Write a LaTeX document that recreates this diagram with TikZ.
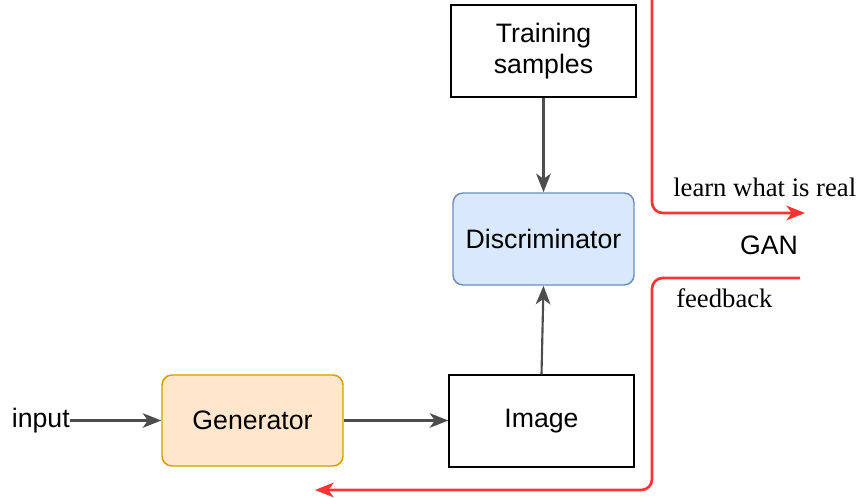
\documentclass[tikz,border=0pt]{standalone}
\usepackage{fontspec}
\setmainfont{Liberation Serif}
\setsansfont{Liberation Sans}
\usetikzlibrary{arrows.meta}
\usepackage{xcolor}

\definecolor{arrowgray}{RGB}{77,77,77}
\definecolor{loopred}{RGB}{255,51,51}
\definecolor{genfill}{RGB}{255,230,204}
\definecolor{gendraw}{RGB}{215,155,0}
\definecolor{discfill}{RGB}{218,232,252}
\definecolor{discdraw}{RGB}{108,142,191}

\tikzset{
  block/.style={draw=black, line width=1.1pt, inner sep=0pt, align=center,
    font=\sffamily\fontsize{20}{23}\selectfont},
  flow/.style={draw=arrowgray, line width=1.6pt, -{Stealth[length=14pt,width=11pt,inset=4pt]}},
  loop/.style={draw=loopred, line width=2pt, rounded corners=8pt},
  looptip/.style={draw=loopred, line width=2pt, -{Stealth[length=14pt,width=11pt,inset=4pt]}},
  sans/.style={font=\sffamily\fontsize{20}{23}\selectfont, inner sep=0pt},
  serif/.style={font=\rmfamily\fontsize{20}{23}\selectfont, inner sep=0pt}
}

\begin{document}
\begin{tikzpicture}[x=0.75pt,y=0.75pt,yscale=-1,xscale=1]
\useasboundingbox (0,0) rectangle (860,498);

% Boxes
\node [block, minimum width=138.75pt, minimum height=69pt] (train) at (543.5,51) {Training\\samples};
\node [block, draw=discdraw, fill=discfill, rounded corners=7.5pt, minimum width=135.75pt, minimum height=69pt] (disc) at (543.5,239) {Discriminator};
\node [block, minimum width=138.75pt, minimum height=69pt] (img) at (541.5,421) {Image};
\node [block, draw=gendraw, fill=genfill, rounded corners=7.5pt, minimum width=135.75pt, minimum height=68.25pt] (gen) at (252.5,420.5) {Generator};

% Text Node
\node [sans, anchor=east] (in) at (70,420.5) {input};

% Arrows
\draw [flow] (in.east) -- (gen.west);
\draw [flow] (gen.east) -- (gen.east -| img.west);
\draw [flow] (img.north) -- (disc.south);
\draw [flow] (train.south) -- (disc.north);

% Red loop lines
\coordinate (ra) at (652,0);
\coordinate (rb) at (652,213);
\coordinate (rc) at (805,213);
\coordinate (fa) at (800,278);
\coordinate (fb) at (652,278);
\coordinate (fc) at (652,490);
\coordinate (fd) at (315,490);
\draw [loop] (ra) -- (rb) -- ([xshift=-3pt]rc);
\draw [looptip] ([xshift=-4pt]rc) -- (rc);
\draw [loop] (fa) -- (fb) -- (fc) -- ([xshift=3pt]fd);
\draw [looptip] ([xshift=4pt]fd) -- (fd);

% Text Node
\node [serif, anchor=base west] (real) at (673,197) {learn what is real};
% Text Node
\node [sans, anchor=base] (gan) at (769,255) {GAN};
% Text Node
\node [serif, anchor=base west] (fbtext) at (676,308) {feedback};

\end{tikzpicture}
\end{document}
